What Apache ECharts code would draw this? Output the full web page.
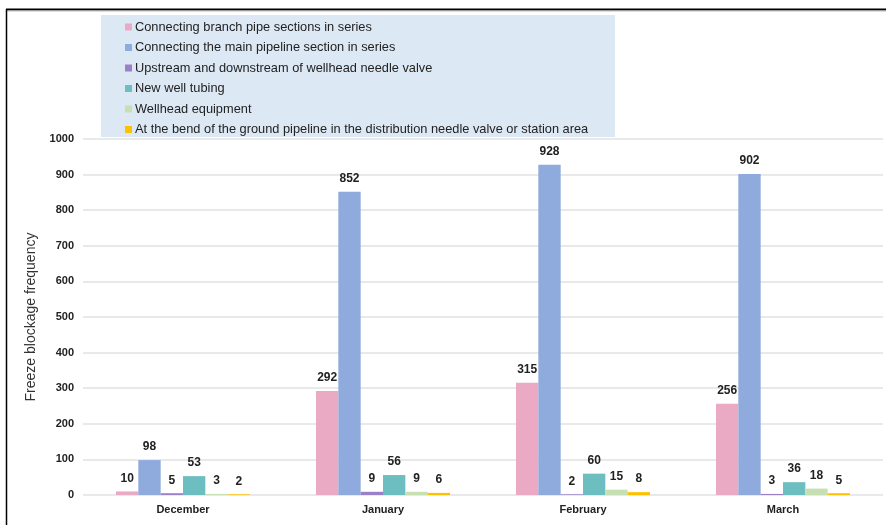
<!DOCTYPE html>
<html>
<head>
<meta charset="utf-8">
<script src="https://cdn.jsdelivr.net/npm/echarts@6/dist/echarts.min.js"></script>
<style>
html,body{margin:0;padding:0;background:#fff;}
#main{width:886px;height:525px;}
</style>
</head>
<body>
<div id="main"></div>
<script>
var categories = ['December', 'January', 'February', 'March'];
var seriesNames = [
  'Connecting branch pipe sections in series',
  'Connecting the main pipeline section in series',
  'Upstream and downstream of wellhead needle valve',
  'New well tubing',
  'Wellhead equipment',
  'At the bend of the ground pipeline in the distribution needle valve or station area'
];
var branchPipe = [10, 292, 315, 256];
var mainPipeline = [98, 852, 928, 902];
var needleValve = [5, 9, 2, 3];
var wellTubing = [53, 56, 60, 36];
var wellheadEquip = [3, 9, 15, 18];
var groundBend = [2, 6, 8, 5];
var yTicks = [0, 100, 200, 300, 400, 500, 600, 700, 800, 900, 1000];
var colors = ['#ebaac4', '#8faadc', '#9a80c8', '#6cbec0', '#c6e0b4', '#ffc000'];

var allData = [branchPipe, mainPipeline, needleValve, wellTubing, wellheadEquip, groundBend];
var chart = echarts.init(document.getElementById('main'));
var series = allData.map(function (d, i) {
  return {
    name: seriesNames[i],
    type: 'bar',
    data: d,
    barGap: '0%',
    barCategoryGap: '33%',
    itemStyle: { color: colors[i] },
    label: {
      show: true,
      position: 'top',
      distance: 7,
      fontFamily: 'Liberation Sans, Arial, sans-serif',
      fontWeight: 'bold',
      fontSize: 12,
      color: '#222'
    }
  };
});
chart.setOption({
  animation: false,
  color: colors,
  graphic: [
    { type: 'rect', silent: true, z: -1, shape: { x: 101, y: 15, width: 514, height: 122 }, style: { fill: '#dde8f5' } },
    { type: 'line', silent: true, shape: { x1: 6, y1: 9.5, x2: 886, y2: 9.5 }, style: { stroke: '#000', lineWidth: 2 } },
    { type: 'line', silent: true, shape: { x1: 6, y1: 11, x2: 886, y2: 11 }, style: { stroke: '#bbb', lineWidth: 1 } },
    { type: 'line', silent: true, shape: { x1: 6.5, y1: 9, x2: 6.5, y2: 525 }, style: { stroke: '#000', lineWidth: 1.5 } }
  ],
  legend: {
    orient: 'vertical',
    left: 125,
    top: 20,
    itemWidth: 7,
    itemHeight: 7,
    itemGap: 6.5,
    icon: 'rect',
    padding: 0,
    textStyle: {
      fontFamily: 'Liberation Sans, Arial, sans-serif',
      fontSize: 12.8,
      lineHeight: 14,
      color: '#222',
      padding: [0, 0, 0, -2]
    },
    data: seriesNames
  },
  grid: { left: 83, right: 3, top: 139, bottom: 30, containLabel: false },
  xAxis: {
    type: 'category',
    data: categories,
    axisLine: { show: false },
    axisTick: { show: false },
    axisLabel: {
      margin: 9,
      fontFamily: 'Liberation Sans, Arial, sans-serif',
      fontWeight: 'bold',
      fontSize: 11,
      color: '#222'
    }
  },
  yAxis: {
    type: 'value',
    min: yTicks[0],
    max: yTicks[yTicks.length - 1],
    interval: yTicks[1] - yTicks[0],
    name: 'Freeze blockage frequency',
    nameLocation: 'middle',
    nameGap: 40,
    nameTextStyle: {
      fontFamily: 'Liberation Sans, Arial, sans-serif',
      fontSize: 14,
      color: '#333'
    },
    axisLine: { show: false },
    axisTick: { show: false },
    splitLine: { lineStyle: { color: '#e2e2e2', width: 1.5 } },
    axisLabel: {
      margin: 9,
      formatter: function (v) { return String(v); },
      fontFamily: 'Liberation Sans, Arial, sans-serif',
      fontWeight: 'bold',
      fontSize: 11,
      color: '#222'
    }
  },
  series: series
});
</script>
</body>
</html>
